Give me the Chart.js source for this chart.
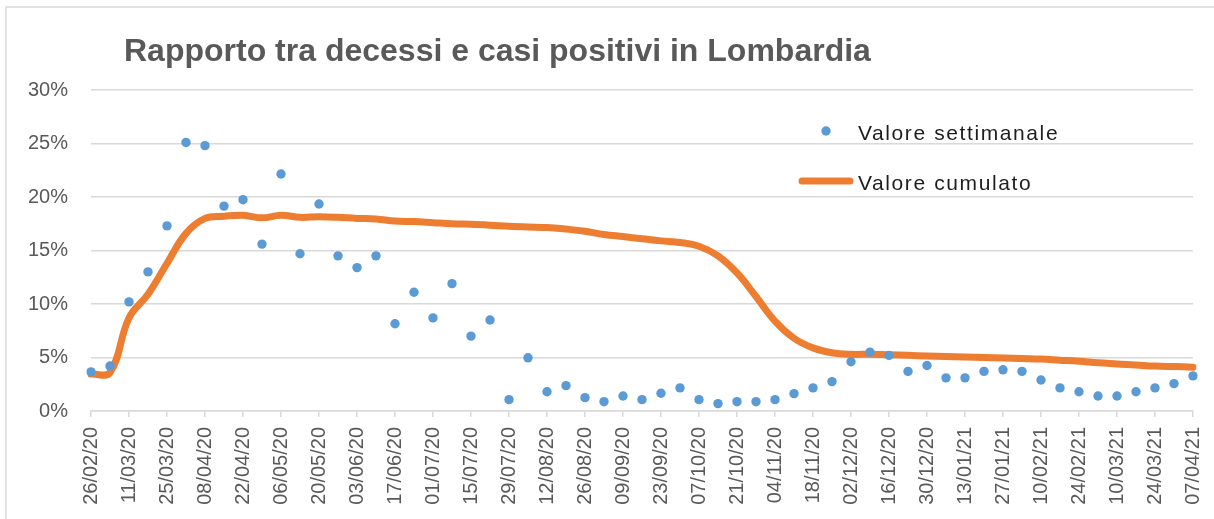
<!DOCTYPE html>
<html>
<head>
<meta charset="utf-8">
<script src="https://cdn.jsdelivr.net/npm/chart.js@4.4.1/dist/chart.umd.min.js"></script>
<style>
  html, body { margin: 0; padding: 0; background: #ffffff; }
  #wrap { width: 1214px; height: 519px; }
</style>
</head>
<body>
<div id="wrap"><canvas id="c" width="1214" height="519"></canvas></div>
<script>
const TITLE = "Rapporto tra decessi e casi positivi in Lombardia";

const weeks = [
  "26/02/20","04/03/20","11/03/20","18/03/20","25/03/20","01/04/20","08/04/20","15/04/20",
  "22/04/20","29/04/20","06/05/20","13/05/20","20/05/20","27/05/20","03/06/20","10/06/20",
  "17/06/20","24/06/20","01/07/20","08/07/20","15/07/20","22/07/20","29/07/20","05/08/20",
  "12/08/20","19/08/20","26/08/20","02/09/20","09/09/20","16/09/20","23/09/20","30/09/20",
  "07/10/20","14/10/20","21/10/20","28/10/20","04/11/20","11/11/20","18/11/20","25/11/20",
  "02/12/20","09/12/20","16/12/20","23/12/20","30/12/20","06/01/21","13/01/21","20/01/21",
  "27/01/21","03/02/21","10/02/21","17/02/21","24/02/21","03/03/21","10/03/21","17/03/21",
  "24/03/21","31/03/21","07/04/21"
];

// Valore settimanale (%)
const weekly = [
  3.65, 4.2, 10.2, 13.0, 17.3, 25.1, 24.8, 19.15,
  19.75, 15.6, 22.15, 14.7, 19.35, 14.5, 13.4, 14.5,
  8.15, 11.1, 8.7, 11.9, 7.0, 8.5, 1.06, 4.97,
  1.8, 2.37, 1.25, 0.87, 1.4, 1.06, 1.66, 2.16,
  1.06, 0.69, 0.87, 0.87, 1.06, 1.62, 2.16, 2.75,
  4.6, 5.5, 5.2, 3.7, 4.25, 3.1, 3.1, 3.7,
  3.85, 3.7, 2.9, 2.16, 1.8, 1.4, 1.4, 1.8,
  2.16, 2.56, 3.28
];

// Valore cumulato (%)
const cumulative = [
  3.45, 3.6, 8.7, 10.9, 13.8, 16.6, 18.0, 18.2,
  18.3, 18.05, 18.3, 18.1, 18.15, 18.1, 18.0, 17.95,
  17.75, 17.7, 17.6, 17.5, 17.45, 17.37, 17.27, 17.2,
  17.15, 17.0, 16.8, 16.5, 16.3, 16.1, 15.9, 15.75,
  15.4, 14.5, 12.9, 10.7, 8.4, 6.8, 5.9, 5.45,
  5.3, 5.3, 5.25, 5.2, 5.15, 5.1, 5.05, 5.0,
  4.95, 4.9, 4.85, 4.75, 4.65, 4.5, 4.4, 4.3,
  4.2, 4.15, 4.1
];

const yTicks = [0, 5, 10, 15, 20, 25, 30];

const BLUE = "#5b9bd5";
const ORANGE = "#ed7d31";
const GREY_TXT = "#595959";
const GRID = "#d9d9d9";
const FONT = '"Liberation Sans", Arial, sans-serif';

const decorPlugin = {
  id: "decor",
  beforeDraw(chart) {
    const ctx = chart.ctx;
    ctx.save();
    ctx.fillStyle = "#ffffff";
    ctx.fillRect(0, 0, chart.width, chart.height);
    ctx.strokeStyle = GRID;
    ctx.lineWidth = 1.5;
    ctx.strokeRect(6, 7, chart.width + 20, chart.height + 20);
    ctx.restore();
  },
  afterDraw(chart) {
    const ctx = chart.ctx;
    ctx.save();
    // Title
    ctx.fillStyle = GREY_TXT;
    ctx.font = "bold 32px " + FONT;
    ctx.textAlign = "left";
    ctx.textBaseline = "alphabetic";
    ctx.fillText(TITLE, 124, 61);

    // Legend
    const ds = chart.data.datasets;
    ctx.font = "21px " + FONT;
    try { ctx.letterSpacing = "1.6px"; } catch (e) {}
    // weekly (dots)
    ctx.beginPath();
    ctx.arc(826, 131, 4.7, 0, Math.PI * 2);
    ctx.fillStyle = BLUE;
    ctx.fill();
    ctx.fillStyle = "#1e1e1e";
    ctx.fillText(ds[0].label, 858, 140);
    // cumulative (line)
    ctx.beginPath();
    ctx.moveTo(802, 181);
    ctx.lineTo(850, 181);
    ctx.strokeStyle = ORANGE;
    ctx.lineWidth = 7;
    ctx.lineCap = "round";
    ctx.stroke();
    ctx.fillText(ds[1].label, 858, 190);
    ctx.restore();
  }
};

new Chart(document.getElementById("c"), {
  type: "line",
  data: {
    labels: weeks,
    datasets: [
      {
        label: "Valore settimanale",
        data: weekly,
        showLine: false,
        pointRadius: 4.7,
        pointHoverRadius: 4.7,
        pointBackgroundColor: BLUE,
        pointBorderWidth: 0,
        borderColor: BLUE,
        order: 0
      },
      {
        label: "Valore cumulato",
        data: cumulative,
        borderColor: ORANGE,
        borderWidth: 7,
        tension: 0.4,
        pointRadius: 0,
        pointHoverRadius: 0,
        borderCapStyle: "round",
        borderJoinStyle: "round",
        fill: false,
        order: 1
      }
    ]
  },
  options: {
    responsive: false,
    devicePixelRatio: 1,
    animation: false,
    events: [],
    layout: { padding: { left: 0, right: 21, top: 90, bottom: 0 } },
    plugins: {
      legend: { display: false },
      title: { display: false },
      tooltip: { enabled: false }
    },
    scales: {
      x: {
        type: "category",
        offset: false,
        grid: {
          display: true,
          drawOnChartArea: false,
          drawTicks: true,
          tickLength: 6,
          color: GRID,
          lineWidth: 1.5
        },
        border: { display: true, color: GRID, width: 1.5 },
        ticks: {
          autoSkip: false,
          minRotation: 90,
          maxRotation: 90,
          padding: 10,
          color: GREY_TXT,
          font: { family: FONT, size: 20 },
          callback: function (value, index) {
            return index % 2 === 0 ? this.getLabelForValue(value) : null;
          }
        },
        afterFit(scale) {
          scale.height = 108;
          scale.paddingLeft = 0;
          scale.paddingRight = 0;
        }
      },
      y: {
        min: 0,
        max: 30,
        afterBuildTicks(scale) { scale.ticks = yTicks.map(v => ({ value: v })); },
        grid: { color: GRID, lineWidth: 1.5, drawTicks: false },
        border: { display: false },
        ticks: {
          padding: 23,
          color: GREY_TXT,
          font: { family: FONT, size: 20 },
          callback: v => v + "%"
        },
        afterFit(scale) {
          scale.width = 91;
          scale.paddingTop = 0;
          scale.paddingBottom = 0;
        }
      }
    }
  },
  plugins: [decorPlugin]
});
</script>
</body>
</html>
